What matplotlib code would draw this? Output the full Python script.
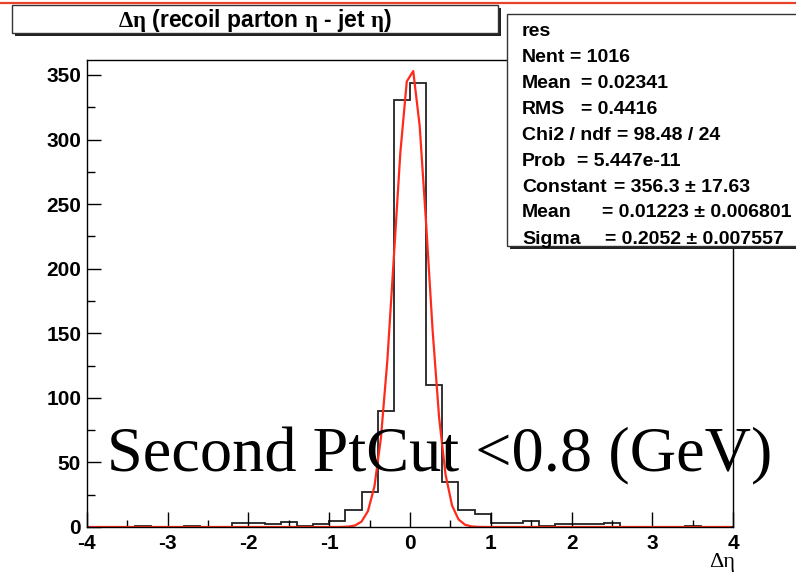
import numpy as np
import matplotlib
matplotlib.use("Agg")
import matplotlib.pyplot as plt
from matplotlib.patches import Rectangle
from matplotlib.lines import Line2D

plt.rcParams['font.family'] = ['Liberation Sans', 'DejaVu Sans']
plt.rcParams['font.weight'] = 'bold'
plt.rcParams['axes.unicode_minus'] = False
plt.rcParams['mathtext.fontset'] = 'custom'
plt.rcParams['mathtext.rm'] = 'Liberation Serif'

# histogram of delta eta, 40 bins of 0.2 from -4 to 4
edges = np.round(np.arange(-4.0, 4.0001, 0.2), 2)
counts = [0, 0, 0, 1, 0, 0, 1, 0, 0, 3,
          3, 2, 4, 1, 2, 5, 13, 27, 90, 331,
          344, 110, 35, 13, 10, 3, 3, 5, 1, 2,
          2, 2, 3, 0, 0, 0, 0, 1, 0, 0]

# gaussian fit parameters from the stats box
fit_const = 356.3
fit_mean = 0.01223
fit_sigma = 0.2052
fit_x = -3.96 + 0.08 * np.arange(100)

stat_labels = ["res", "Nent", "Mean", "RMS", "Chi2 / ndf", "Prob",
               "Constant", "Mean", "Sigma"]
stat_values = ["", "= 1016", "= 0.02341", "= 0.4416", "= 98.48 / 24",
               "= 5.447e-11", "= 356.3 \u00b1 17.63", "= 0.01223 \u00b1 0.006801",
               "= 0.2052 \u00b1 0.007557"]
stat_eq_x = [0, 570, 581, 581, 617, 577, 614, 602, 605]

W, H = 796, 574
fig = plt.figure(figsize=(W / 100, H / 100), dpi=100)


def fx(x):
    return x / W


def fy(y):
    return 1 - y / H


ax = fig.add_axes([fx(86.7), fy(527), fx(733.3) - fx(86.7), fy(60) - fy(527)])
ax.stairs(counts, edges, color='#222222', lw=1.3)
fit_y = fit_const * np.exp(-0.5 * ((fit_x - fit_mean) / fit_sigma) ** 2)
ax.plot(fit_x, fit_y, color='#ff2a1a', lw=1.6)

ax.set_xlim(-4, 4)
ax.set_ylim(0, 361.6)
ax.set_xticks(np.arange(-4, 5, 1))
ax.set_xticks(np.arange(-3.5, 4, 1), minor=True)
ax.set_yticks(np.arange(0, 351, 50))
ax.set_yticks(np.arange(25, 361, 50), minor=True)
ax.tick_params(axis='x', which='major', direction='in', length=10.5, width=1, labelsize=15, pad=5)
ax.tick_params(axis='x', which='minor', direction='in', length=5.2, width=1)
ax.tick_params(axis='y', which='major', direction='in', length=10, width=1, labelsize=15, pad=4)
ax.tick_params(axis='y', which='minor', direction='in', length=6, width=1)
for lab in ax.get_xticklabels() + ax.get_yticklabels():
    lab.set_fontweight('bold')
for s in ax.spines.values():
    s.set_linewidth(1)

# x axis title
fig.text(fx(735), fy(562), "\u0394\u03b7", family='Liberation Serif', weight='normal',
         fontsize=16, ha='right', va='center')

# big annotation
fig.text(fx(107), fy(471), "Second PtCut <0.8 (GeV)", family='Liberation Serif',
         weight='normal', fontsize=46.3, ha='left', va='baseline')

# red line at the top of the slide
fig.add_artist(Line2D([0, 1], [fy(3), fy(3)], color='#e8432a', lw=1.6))

# title box with shadow
fig.add_artist(Rectangle((fx(15), fy(36)), fx(486), fy(5) - fy(33),
                         facecolor='#222222', edgecolor='none'))
fig.add_artist(Rectangle((fx(12), fy(33)), fx(486), fy(5) - fy(33),
                         facecolor='white', edgecolor='#333333', lw=1))
fig.text(fx(255), fy(20), r"$\mathrm{\Delta\eta}$ (recoil parton $\mathrm{\eta}$ - jet $\mathrm{\eta}$)",
         fontsize=16.5, weight='bold', ha='center', va='center')

# stats box with shadow
fig.add_artist(Rectangle((fx(510), fy(249)), fx(320), fy(14) - fy(246),
                         facecolor='#222222', edgecolor='none'))
fig.add_artist(Rectangle((fx(507), fy(246)), fx(320), fy(14) - fy(246),
                         facecolor='white', edgecolor='#333333', lw=1))
for i, (lab, val) in enumerate(zip(stat_labels, stat_values)):
    y = 31 + i * 26
    fig.text(fx(522), fy(y), lab, fontsize=14, weight='bold', ha='left', va='center')
    if val:
        fig.text(fx(stat_eq_x[i]), fy(y), val, fontsize=14, weight='bold',
                 ha='left', va='center')

fig.savefig("out.png", dpi=100)
